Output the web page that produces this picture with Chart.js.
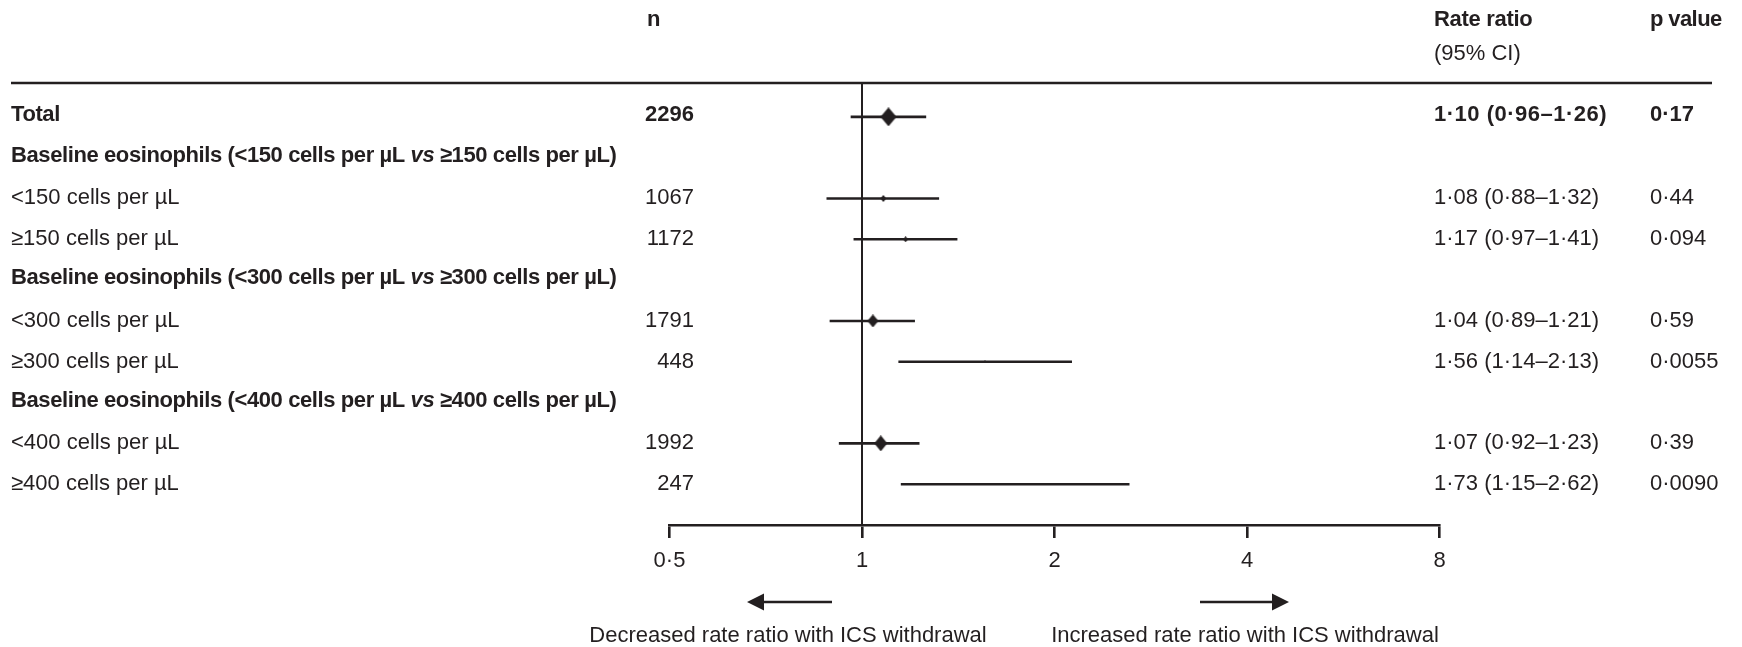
<!DOCTYPE html>
<html>
<head>
<meta charset="utf-8">
<script src="https://cdn.jsdelivr.net/npm/chart.js@4.4.1/dist/chart.umd.min.js"></script>
<style>
  html, body { margin: 0; padding: 0; background: #fff; }
  #wrap { width: 1742px; height: 647px; }
</style>
</head>
<body>
<div id="wrap"><canvas id="forest" width="1742" height="647"></canvas></div>
<script>
// table rows, top to bottom
const rowLabels = [
    'Total',
    'Baseline eosinophils (<150 cells per µL vs ≥150 cells per µL)',
    '<150 cells per µL',
    '≥150 cells per µL',
    'Baseline eosinophils (<300 cells per µL vs ≥300 cells per µL)',
    '<300 cells per µL',
    '≥300 cells per µL',
    'Baseline eosinophils (<400 cells per µL vs ≥400 cells per µL)',
    '<400 cells per µL',
    '≥400 cells per µL'
];
const rowN = [2296, null, 1067, 1172, null, 1791, 448, null, 1992, 247];
const rateRatio = [1.10, null, 1.08, 1.17, null, 1.04, 1.56, null, 1.07, 1.73];
const ciLow = [0.96, null, 0.88, 0.97, null, 0.89, 1.14, null, 0.92, 1.15];
const ciHigh = [1.26, null, 1.32, 1.41, null, 1.21, 2.13, null, 1.23, 2.62];
const pValues = ['0·17', '', '0·44', '0·094', '', '0·59', '0·0055', '', '0·39', '0·0090'];
const boldRows = [true, true, false, false, true, false, false, true, false, false];
const xTicks = [0.5, 1, 2, 4, 8];
const refValue = 1;

// diamond half width / half height per row (marker weight)
const markerSize = [[8, 9.5], null, [3, 3.5], [2.5, 3], null, [5.5, 6.5], [1.2, 1.6], null, [6.5, 8], [1, 1.2]];

const ink = '#231f20';
const FONT = '"Liberation Sans", Arial, sans-serif';
const yMin = -0.83, yMax = 10;

const fmt = v => v.toFixed(2).replace('.', '·');

function diamond(hw, hh) {
    const c = document.createElement('canvas');
    c.width = Math.max(2, Math.round(hw * 2));
    c.height = Math.max(2, Math.round(hh * 2));
    const g = c.getContext('2d');
    g.fillStyle = ink;
    g.beginPath();
    g.moveTo(c.width / 2, 0);
    g.lineTo(c.width, c.height / 2);
    g.lineTo(c.width / 2, c.height);
    g.lineTo(0, c.height / 2);
    g.closePath();
    g.fill();
    return c;
}

// datasets
const ciSets = [];
const points = [];
const pointStyles = [];
rateRatio.forEach((v, i) => {
    if (v == null) return;
    ciSets.push({
        data: [{ x: ciLow[i], y: i }, { x: ciHigh[i], y: i }],
        showLine: true,
        borderColor: ink,
        borderWidth: 2.6,
        pointRadius: 0
    });
    points.push({ x: v, y: i });
    pointStyles.push(diamond(markerSize[i][0], markerSize[i][1]));
});

const refLine = {
    data: [{ x: refValue, y: yMin }, { x: refValue, y: yMax }],
    showLine: true,
    borderColor: ink,
    borderWidth: 2,
    pointRadius: 0
};

const estimates = {
    data: points,
    pointStyle: pointStyles,
    pointRadius: 5,
    showLine: false
};

function drawText(ctx, str, x, y, opts) {
    ctx.font = (opts.italic ? 'italic ' : '') + (opts.bold ? 'bold ' : '') + '22px ' + FONT;
    ctx.letterSpacing = opts.spacing || '0px';
    ctx.textAlign = opts.align || 'left';
    ctx.textBaseline = 'alphabetic';
    ctx.fillStyle = ink;
    ctx.fillText(str, x, y);
    const w = ctx.measureText(str).width;
    ctx.letterSpacing = '0px';
    return w;
}

const tablePlugin = {
    id: 'tableText',
    afterDraw(chart) {
        const ctx = chart.ctx;
        const xs = chart.scales.x;
        const ys = chart.scales.y;
        const area = chart.chartArea;
        ctx.save();

        // header rule
        ctx.strokeStyle = ink;
        ctx.lineWidth = 2.6;
        ctx.beginPath();
        ctx.moveTo(11, area.top);
        ctx.lineTo(1712, area.top);
        ctx.stroke();

        // column headers
        const colN = 694, colRR = 1434, colP = 1650;
        drawText(ctx, 'n', 647, 26, { bold: true });
        drawText(ctx, 'Rate ratio', colRR, 26, { bold: true, spacing: '-0.3px' });
        drawText(ctx, '(95% CI)', colRR, 60, {});
        drawText(ctx, 'p value', colP, 26, { bold: true, spacing: '-0.6px' });

        rowLabels.forEach((label, i) => {
            const bold = boldRows[i];
            const y = ys.getPixelForValue(i) + (bold ? 4 : 6);
            const sp = bold ? '-0.4px' : '0px';
            if (label.includes(' vs ')) {
                const parts = label.split(' vs ');
                let x = 11;
                x += drawText(ctx, parts[0] + ' ', x, y, { bold, spacing: sp });
                x += drawText(ctx, 'vs', x, y, { bold, italic: true, spacing: sp });
                drawText(ctx, ' ' + parts[1], x, y, { bold, spacing: sp });
            } else {
                drawText(ctx, label, 11, y, { bold, spacing: sp });
            }
            if (rowN[i] != null) drawText(ctx, String(rowN[i]), colN, y, { bold, align: 'right' });
            if (rateRatio[i] != null) {
                drawText(ctx, fmt(rateRatio[i]) + ' (' + fmt(ciLow[i]) + '–' + fmt(ciHigh[i]) + ')', colRR, y,
                    { bold, spacing: bold ? '0.5px' : '0px' });
                drawText(ctx, pValues[i], colP, y, { bold });
            }
        });

        // direction arrows
        const x1 = xs.getPixelForValue(refValue);
        const ay = 602;
        ctx.fillStyle = ink;
        ctx.lineWidth = 2.6;
        ctx.beginPath();
        ctx.moveTo(x1 - 30, ay); ctx.lineTo(x1 - 110, ay);
        ctx.moveTo(x1 + 338, ay); ctx.lineTo(x1 + 410, ay);
        ctx.stroke();
        ctx.beginPath();
        ctx.moveTo(x1 - 115, ay); ctx.lineTo(x1 - 98, ay - 8.5); ctx.lineTo(x1 - 98, ay + 8.5); ctx.closePath();
        ctx.moveTo(x1 + 427, ay); ctx.lineTo(x1 + 410, ay - 8.5); ctx.lineTo(x1 + 410, ay + 8.5); ctx.closePath();
        ctx.fill();

        drawText(ctx, 'Decreased rate ratio with ICS withdrawal', x1 - 74, 642, { align: 'center' });
        drawText(ctx, 'Increased rate ratio with ICS withdrawal', x1 + 383, 642, { align: 'center' });

        ctx.restore();
    }
};

new Chart(document.getElementById('forest'), {
    type: 'scatter',
    data: {
        datasets: [refLine, ...ciSets, estimates]
    },
    plugins: [tablePlugin],
    options: {
        responsive: false,
        devicePixelRatio: 1,
        animation: false,
        events: [],
        layout: {
            padding: { left: 669.5, right: 302.5, top: 83, bottom: 0 }
        },
        plugins: {
            legend: { display: false },
            tooltip: { enabled: false }
        },
        scales: {
            x: {
                type: 'logarithmic',
                min: 0.5,
                max: 8,
                afterBuildTicks: s => { s.ticks = xTicks.map(v => ({ value: v })); },
                afterFit: s => { s.height = 122; },
                grid: {
                    drawOnChartArea: false,
                    drawTicks: true,
                    tickLength: 13,
                    lineWidth: 2.6,
                    color: ink
                },
                border: { display: true, width: 2.6, color: ink },
                ticks: {
                    color: ink,
                    padding: 10,
                    maxRotation: 0,
                    autoSkip: false,
                    font: { family: FONT, size: 22 },
                    callback: v => String(v).replace('.', '·')
                }
            },
            y: {
                type: 'linear',
                display: false,
                reverse: true,
                min: yMin,
                max: yMax
            }
        }
    }
});
</script>
</body>
</html>
